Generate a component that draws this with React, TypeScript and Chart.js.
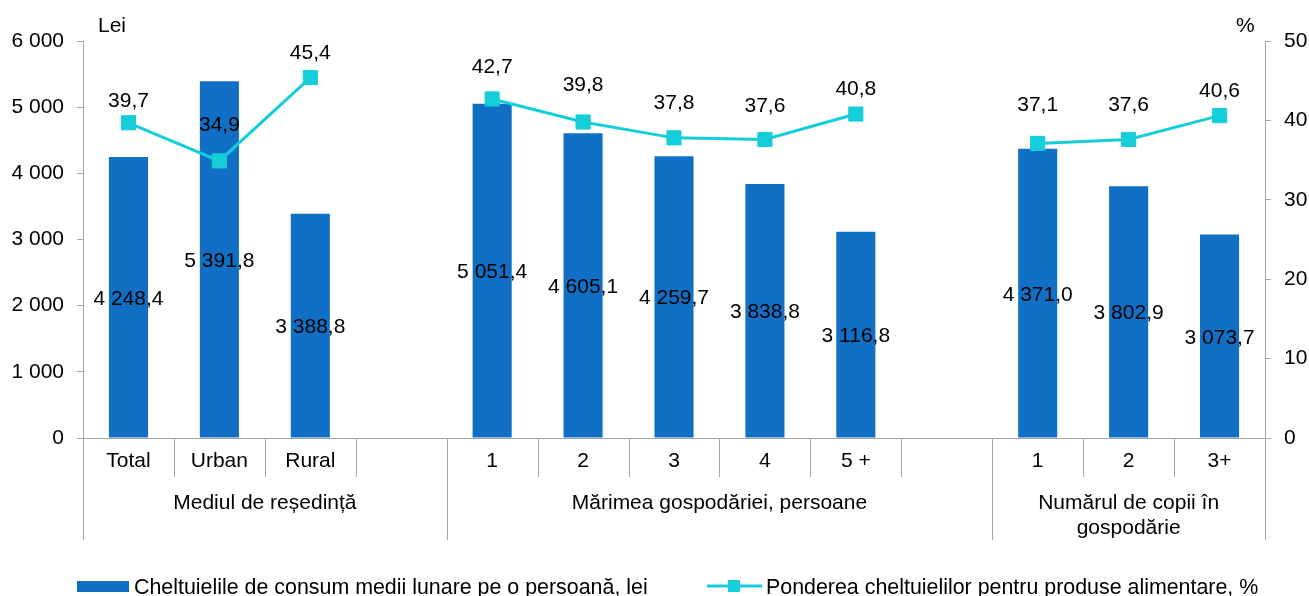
import React, { useEffect, useRef } from 'react';
import { Chart, registerables } from 'chart.js';

Chart.register(...registerables);

const categories = ['Total', 'Urban', 'Rural', '', '1', '2', '3', '4', '5 +', '', '1', '2', '3+'];
const spending = [4248.4, 5391.8, 3388.8, null, 5051.4, 4605.1, 4259.7, 3838.8, 3116.8, null, 4371.0, 3802.9, 3073.7];
const foodShare = [39.7, 34.9, 45.4, null, 42.7, 39.8, 37.8, 37.6, 40.8, null, 37.1, 37.6, 40.6];
const groupLabels = [['Mediul de reședință'], ['Mărimea gospodăriei, persoane'], ['Numărul de copii în', 'gospodărie']];
const groupStarts = [0, 4, 10, 13];
const seriesNames = [
  'Cheltuielile de consum medii lunare pe o persoană, lei',
  'Ponderea cheltuielilor pentru produse alimentare, %',
];
const axisTitles = ['Lei', '%'];
// vertical lift (px) of each line label centre above its marker
const lineLabelLift = [23, 37, 26, 0, 33, 39, 36, 35, 27, 0, 40, 36, 26];

const BAR = '#1170C5';
const LINE = '#16CED9';
const GRAY = '#A6A6A6';
const FONT = '"Liberation Sans", Arial, sans-serif';
const FS = 21;
const LEGEND_FS = 21.4;

function fmt(v: number, dec: number) {
  const s = v.toFixed(dec);
  const [i, d] = s.split('.');
  const ii = i.replace(/\B(?=(\d{3})+(?!\d))/g, ' ');
  return d !== undefined ? ii + ',' + d : ii;
}

const decorPlugin = {
  id: 'decor',
  afterDatasetsDraw(chart: any) {
    const ctx = chart.ctx;
    const area = chart.chartArea;
    const x = chart.scales.x;
    const n = categories.length;
    const w = (x.right - x.left) / n;
    ctx.save();
    ctx.font = `${FS}px ${FONT}`;
    ctx.fillStyle = '#000';
    ctx.textAlign = 'center';
    ctx.textBaseline = 'alphabetic';
    const capH = FS * 0.716;
    // bar labels
    const barMeta = chart.getDatasetMeta(1);
    barMeta.data.forEach((el: any, i: number) => {
      const v = spending[i];
      if (v == null) return;
      const mid = (el.y + el.base) / 2;
      ctx.fillText(fmt(v, 1), el.x, mid + capH / 2);
    });
    // line labels
    const lineMeta = chart.getDatasetMeta(0);
    lineMeta.data.forEach((el: any, i: number) => {
      const v = foodShare[i];
      if (v == null) return;
      ctx.fillText(fmt(v, 1), el.x, el.y - lineLabelLift[i] + capH / 2);
    });

    // dividers under the x axis
    ctx.strokeStyle = GRAY;
    ctx.lineWidth = 1;
    for (let i = 0; i <= n; i++) {
      const bx = Math.round(x.left + i * w) + 0.5;
      const long = groupStarts.includes(i);
      ctx.beginPath();
      ctx.moveTo(bx, area.bottom);
      ctx.lineTo(bx, long ? area.bottom + 102 : area.bottom + 39);
      ctx.stroke();
    }
    // group labels
    groupLabels.forEach((lines, g) => {
      const cx = x.left + ((groupStarts[g] + groupStarts[g + 1]) / 2) * w;
      lines.forEach((t, k) => {
        ctx.fillText(t, cx, area.bottom + 71 + k * 25);
      });
    });

    // axis titles
    ctx.textAlign = 'left';
    ctx.fillText(axisTitles[0], 98, 32);
    ctx.fillText(axisTitles[1], 1236, 32);

    // legend
    ctx.font = `${LEGEND_FS}px ${FONT}`;
    const lcap = LEGEND_FS * 0.716;
    const ly = 586;
    ctx.fillStyle = BAR;
    ctx.fillRect(77, ly - 5, 52, 11);
    ctx.fillStyle = '#000';
    ctx.fillText(seriesNames[0], 134, ly + lcap / 2);
    ctx.strokeStyle = LINE;
    ctx.lineWidth = 3;
    ctx.beginPath();
    ctx.moveTo(707, ly);
    ctx.lineTo(762, ly);
    ctx.stroke();
    ctx.fillStyle = LINE;
    ctx.fillRect(734 - 6, ly - 6, 12, 12);
    ctx.fillStyle = '#000';
    ctx.fillText(seriesNames[1], 766, ly + lcap / 2);
    ctx.restore();
  },
};

export default function App() {
  const ref = useRef<HTMLCanvasElement | null>(null);
  useEffect(() => {
    document.body.style.margin = '0';
    const canvas = ref.current!;
    const chart = new Chart(canvas, {
      type: 'bar',
      data: {
        labels: categories,
        datasets: [
          {
            type: 'line',
            label: seriesNames[1],
            data: foodShare as any,
            yAxisID: 'y1',
            borderColor: LINE,
            backgroundColor: LINE,
            borderWidth: 3,
            pointStyle: 'rect',
            pointRadius: 10,
            pointBorderWidth: 1,
            pointBackgroundColor: LINE,
            pointBorderColor: LINE,
            spanGaps: false,
            order: 0,
          } as any,
          {
            type: 'bar',
            label: seriesNames[0],
            data: spending as any,
            yAxisID: 'y',
            backgroundColor: BAR,
            categoryPercentage: 1,
            barPercentage: 0.43,
            order: 1,
          } as any,
        ],
      },
      options: {
        responsive: false,
        animation: false,
        devicePixelRatio: 1,
        layout: { padding: { top: 41, left: 0, right: 0, bottom: 0 } },
        plugins: { legend: { display: false }, tooltip: { enabled: false } },
        scales: {
          x: {
            offset: true,
            grid: { display: false, drawTicks: false },
            border: { display: true, color: GRAY, width: 1 },
            ticks: {
              autoSkip: false,
              maxRotation: 0,
              padding: 11,
              color: '#000',
              font: { family: FONT, size: FS },
            },
            afterFit: (s: any) => { s.height = 158; },
          },
          y: {
            position: 'left',
            min: 0,
            max: 6000,
            ticks: {
              stepSize: 1000,
              padding: 13,
              color: '#000',
              font: { family: FONT, size: FS },
              callback: (v: any) => fmt(Number(v), 0),
            },
            grid: { display: true, drawOnChartArea: false, drawTicks: true, tickLength: 6, color: GRAY },
            border: { display: true, color: GRAY, width: 1 },
            afterFit: (s: any) => { s.width = 83; },
          },
          y1: {
            position: 'right',
            min: 0,
            max: 50,
            ticks: {
              stepSize: 10,
              padding: 13,
              color: '#000',
              font: { family: FONT, size: FS },
            },
            grid: { display: true, drawOnChartArea: false, drawTicks: true, tickLength: 6, color: GRAY },
            border: { display: true, color: GRAY, width: 1 },
            afterFit: (s: any) => { s.width = 44; },
          },
        },
      },
      plugins: [decorPlugin],
    });
    return () => chart.destroy();
  }, []);
  return <canvas ref={ref} width={1309} height={596} style={{ display: 'block' }} />;
}
